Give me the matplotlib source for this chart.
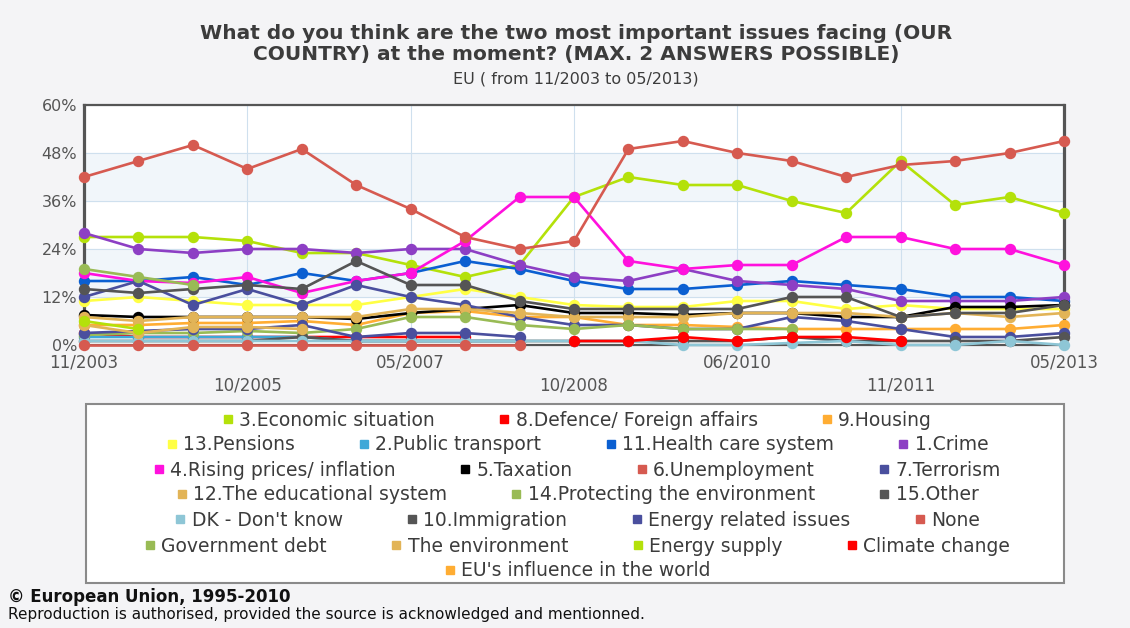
import numpy as np
import matplotlib.pyplot as plt
from matplotlib.lines import Line2D
from matplotlib.patches import Rectangle

nan = np.nan

# x axis: 19 survey waves, a label every third wave
tick_labels = ["11/2003", "10/2005", "05/2007", "10/2008", "06/2010", "11/2011", "05/2013"]
n_waves = 19

# values in %
economic = [27, 27, 27, 26, 23, 23, 20, 17, 20, 37, 42, 40, 40, 36, 33, 46, 35, 37, 33]
defence = [3, 2, 2, 2, 2, 2, 2, 2, nan, nan, nan, nan, nan, nan, nan, nan, nan, nan, nan]
housing = [5, 5, 5.5, 5.5, 6, 5, 8, 8.5, 7, 7, 5, 5, 4.5, 4, 4, 4, 4, 4, 5]
pensions = [11, 12, 11, 10, 10, 10, 12, 14, 12, 10, 9.5, 9.5, 11, 11, 9, 10, 9, 9, 9]
transport = [2, 2, 2, 2, 2, 1, 1, 1, 1, nan, nan, nan, nan, nan, nan, nan, nan, nan, nan]
health = [16, 16, 17, 15, 18, 16, 18, 21, 19, 16, 14, 14, 15, 16, 15, 14, 12, 12, 11]
crime = [28, 24, 23, 24, 24, 23, 24, 24, 20, 17, 16, 19, 16, 15, 14, 11, 11, 11, 12]
prices = [18, 16, 15.5, 17, 13, 16, 18, 26, 37, 37, 21, 19, 20, 20, 27, 27, 24, 24, 20]
taxation = [7.5, 7, 7, 7, 7, 6.5, 8, 9, 10, 8, 8, 7.5, 8, 8, 7, 7, 9.5, 9.5, 10]
unemployment = [42, 46, 50, 44, 49, 40, 34, 27, 24, 26, 49, 51, 48, 46, 42, 45, 46, 48, 51]
terrorism = [12, 16, 10, 14, 10, 15, 12, 10, 7, 5, 5, 4, 4, 7, 6, 4, 2, 2, 3]
education = [7, 6, 7, 7, 7, 7, 9, 9, 8, 7, 7, 7, 8, 8, 8, 7, 8, 7, 8]
environment_prot = [2.5, 3, 3, 3.5, 3, 4, 7, 7, 5, 4, 5, 4, 4, 4, nan, nan, nan, nan, nan]
other = [1, 1, 1, 1, 2, 1, 1, 1, 1, 1, 1, 1, 1, 2, 1, 1, 1, 1, 2]
dont_know = [1, 1, 1, 1, 1, 1, 1, 1, 1, 1, 1, 0, 0, 0.5, 1, 0, 0, 1, 0]
immigration = [14, 13, 14, 15, 14, 21, 15, 15, 11, 9, 9, 9, 9, 12, 12, 7, 8, 8, 10]
energy_issues = [3, 3.5, 4, 4, 5, 2, 3, 3, 2, nan, nan, nan, nan, nan, nan, nan, nan, nan, nan]
none_ = [0, 0, 0, 0, 0, 0, 0, 0, 0, nan, nan, nan, nan, nan, nan, nan, nan, nan, nan]
gov_debt = [19, 17, 15, nan, nan, nan, nan, nan, nan, nan, nan, nan, nan, nan, nan, nan, nan, nan, nan]
the_environment = [5, 3, 4.5, 4.5, 4, nan, nan, nan, nan, nan, nan, nan, nan, nan, nan, nan, nan, nan, nan]
energy_supply = [6, 4, nan, nan, nan, nan, nan, nan, nan, nan, nan, nan, nan, nan, nan, nan, nan, nan, nan]
climate = [nan, nan, nan, nan, nan, nan, nan, nan, nan, 1, 1, 2, 1, 2, 2, 1, nan, nan, nan]
eu_influence = [nan] * n_waves

series = [
    ("3.Economic situation", economic, "#b4e10a"),
    ("8.Defence/ Foreign affairs", defence, "#ff0000"),
    ("9.Housing", housing, "#ffad33"),
    ("13.Pensions", pensions, "#ffff44"),
    ("2.Public transport", transport, "#3ea8d8"),
    ("11.Health care system", health, "#0b5fd1"),
    ("1.Crime", crime, "#8d3fc4"),
    ("4.Rising prices/ inflation", prices, "#ff11dd"),
    ("5.Taxation", taxation, "#000000"),
    ("6.Unemployment", unemployment, "#d65a50"),
    ("7.Terrorism", terrorism, "#4a4f9e"),
    ("12.The educational system", education, "#e2b457"),
    ("14.Protecting the environment", environment_prot, "#99bb55"),
    ("15.Other", other, "#555555"),
    ("DK - Don't know", dont_know, "#8ec6d6"),
    ("10.Immigration", immigration, "#555555"),
    ("Energy related issues", energy_issues, "#4a4f9e"),
    ("None", none_, "#d65a50"),
    ("Government debt", gov_debt, "#99bb55"),
    ("The environment", the_environment, "#e2b457"),
    ("Energy supply", energy_supply, "#b4e10a"),
    ("Climate change", climate, "#ff0000"),
    ("EU's influence in the world", eu_influence, "#ffad33"),
]
legend_rows = [[0, 1, 2], [3, 4, 5, 6], [7, 8, 9, 10], [11, 12, 13],
               [14, 15, 16, 17], [18, 19, 20, 21], [22]]

txt = "#3c3c3c"
bg = "#f4f4f6"
plt.rcParams['font.family'] = ['DejaVu Sans']

fig = plt.figure(figsize=(11.3, 6.28), dpi=100, facecolor=bg)
ax = fig.add_axes([84 / 1130, 1 - 345 / 628, 980 / 1130, 240 / 628])
ax.set_facecolor("white")

x = np.arange(n_waves)
ax.axhspan(12, 24, color="#f1f6fa", zorder=0)
ax.axhspan(36, 48, color="#f1f6fa", zorder=0)
for name, vals, col in series:
    ax.plot(x, vals, color=col, lw=1.9, marker="o", ms=7.2, clip_on=False,
            solid_joinstyle="round", zorder=3)

ax.set_xlim(0, n_waves - 1)
ax.set_ylim(0, 60)
ax.set_yticks(np.arange(0, 61, 12))
ax.set_yticklabels([f"{v}%" for v in range(0, 61, 12)])
tick_pos = list(range(0, n_waves, 3))
ax.set_xticks(tick_pos)
ax.set_xticklabels([lab if i % 2 == 0 else "\n" + lab for i, lab in enumerate(tick_labels)])
for t in ax.get_xticklabels():
    t.set_linespacing(1.4)
ax.tick_params(length=0, labelsize=12, labelcolor="#555555")
ax.tick_params(axis="x", pad=6)
ax.tick_params(axis="y", pad=5, labelsize=11.5)
ax.grid(True, color="#cfe0ee", lw=0.8, zorder=1)
ax.set_axisbelow(True)
for s in ax.spines.values():
    s.set_color("#555555")
    s.set_linewidth(1.6)
ax.spines["left"].set_linewidth(2.3)
ax.spines["right"].set_linewidth(2.3)

fig.text(0.51, 1 - 44 / 628,
         "What do you think are the two most important issues facing (OUR\n"
         "COUNTRY) at the moment? (MAX. 2 ANSWERS POSSIBLE)",
         ha="center", va="center", fontsize=14.5, fontweight="bold", color=txt,
         linespacing=1.15)
fig.text(0.51, 1 - 79 / 628, "EU ( from 11/2003 to 05/2013)", ha="center",
         va="center", fontsize=11.5, color=txt)

# legend box
fig.patches.append(Rectangle((86 / 1130, 1 - 583 / 628), 978 / 1130, 179 / 628,
                             transform=fig.transFigure, facecolor="white",
                             edgecolor="#8a8a8a", lw=1.5, zorder=0))
row_y = [420, 445, 470, 495, 520, 546, 571]
for row, yy in zip(legend_rows, row_y):
    handles = [Line2D([], [], ls="none", marker="s", ms=6, color=series[i][2]) for i in row]
    labels = [series[i][0] for i in row]
    fig.legend(handles, labels, loc="center", bbox_to_anchor=(0.51, 1 - yy / 628),
               ncol=len(row), frameon=False, fontsize=13.5, handletextpad=0.2,
               columnspacing=3.3, handlelength=0.8, labelcolor=txt,
               borderpad=0, borderaxespad=0)

fig.text(8 / 1130, 1 - 597 / 628, "© European Union, 1995-2010", ha="left",
         va="center", fontsize=12, fontweight="bold", color="#111111")
fig.text(8 / 1130, 1 - 614 / 628,
         "Reproduction is authorised, provided the source is acknowledged and mentionned.",
         ha="left", va="center", fontsize=11, color="#111111")

fig.savefig("out.png", dpi=100, facecolor=bg)
